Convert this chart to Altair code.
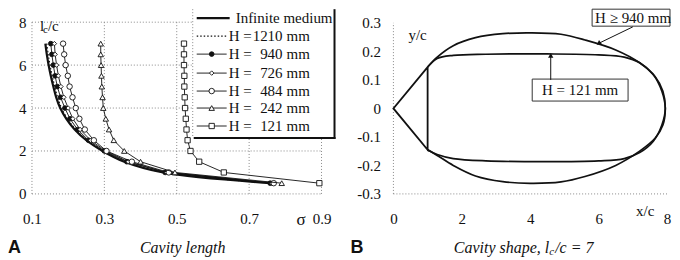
import altair as alt
import pandas as pd

# ---------------- Panel A : cavity length l_c/c versus sigma ----------------
LC = [7, 6.5, 6, 5.5, 5, 4.5, 4, 3.5, 3, 2.5, 2, 1.5, 1, 0.5]
SIG_INF = [0.137, 0.141, 0.146, 0.152, 0.159, 0.167, 0.178, 0.195, 0.218, 0.250, 0.295, 0.355, 0.462, 0.762]
SIG_1210 = [0.141, 0.145, 0.150, 0.156, 0.163, 0.171, 0.182, 0.198, 0.221, 0.253, 0.298, 0.358, 0.465, 0.762]
SIG_940 = [0.152, 0.155, 0.159, 0.164, 0.170, 0.179, 0.191, 0.205, 0.226, 0.256, 0.300, 0.362, 0.468, 0.758]
SIG_726 = [0.162, 0.164, 0.168, 0.173, 0.180, 0.188, 0.200, 0.213, 0.233, 0.262, 0.304, 0.366, 0.472, 0.762]
SIG_484 = [0.186, 0.189, 0.193, 0.199, 0.204, 0.212, 0.221, 0.231, 0.246, 0.271, 0.306, 0.376, 0.478, 0.768]
SIG_242 = [0.290, 0.290, 0.291, 0.292, 0.293, 0.295, 0.297, 0.304, 0.313, 0.326, 0.355, 0.400, 0.495, 0.790]
SIG_121 = [0.520, 0.520, 0.520, 0.521, 0.521, 0.522, 0.523, 0.525, 0.527, 0.530, 0.538, 0.562, 0.630, 0.894]

SERIES_SIG = [SIG_INF, SIG_1210, SIG_940, SIG_726, SIG_484, SIG_242, SIG_121]
LEGEND_NUMS = [None, "1210", "940", "726", "484", "242", "121"]
A_XTICKS = [0.1, 0.3, 0.5, 0.7, 0.9]
A_YTICKS = [0, 2, 4, 6, 8]

# ---------------- Panel B : cavity shape for l_c/c = 7 ----------------
INF_UP_X = [1.0, 1.28, 1.75, 2.4, 3.2, 4.0, 4.9, 5.6, 6.5, 7.2, 7.65, 7.88, 7.95]
INF_UP_Y = [0.145, 0.180, 0.220, 0.248, 0.262, 0.265, 0.260, 0.240, 0.205, 0.160, 0.112, 0.060, 0.0]
INF_LO_X = [1.0, 1.28, 1.75, 2.4, 3.2, 4.0, 4.9, 5.6, 6.5, 7.2, 7.65, 7.88]
INF_LO_Y = [-0.145, -0.165, -0.200, -0.237, -0.257, -0.263, -0.258, -0.239, -0.200, -0.150, -0.105, -0.058]
H121_UP_X = [1.0, 1.28, 1.75, 2.7, 4.5, 6.0, 6.75, 7.2, 7.6, 7.85, 7.95]
H121_UP_Y = [0.145, 0.175, 0.186, 0.190, 0.191, 0.188, 0.180, 0.160, 0.118, 0.060, 0.0]
H121_LO_X = [1.0, 1.28, 1.75, 2.7, 4.5, 6.0, 6.75, 7.2, 7.6, 7.85]
H121_LO_Y = [-0.145, -0.162, -0.176, -0.184, -0.187, -0.184, -0.176, -0.155, -0.115, -0.058]
WEDGE_X = [1.0, 0.0, 1.0, 1.0]
WEDGE_Y = [0.145, 0.0, -0.145, 0.145]
ARROW1_X = [7.0, 6.0]
ARROW1_Y = [0.286, 0.228]
ARROW2_X = [4.6, 4.6]
ARROW2_Y = [0.100, 0.186]
B_XTICKS = [0, 2, 4, 6, 8]
B_YTICKS = [-0.3, -0.2, -0.1, 0.0, 0.1, 0.2, 0.3]

SERIF = "Liberation Serif"
SANS = "Liberation Sans"
INK = "#111111"
GRID = "#8a8a8a"
A_W, A_H = 290, 185
B_W, B_H = 274, 185

DUMMY = pd.DataFrame({"d": [0]})


def T(text, x, y, size=15, font=SERIF, align="left", style="normal", weight="normal"):
    return alt.Chart(pd.DataFrame({"t": [text]})).mark_text(
        align=align, baseline="middle", font=font, fontSize=size,
        fontStyle=style, fontWeight=weight, color=INK
    ).encode(text="t:N", x=alt.value(x), y=alt.value(y))


# ---------- panel A scales / axes ----------
sxA = alt.Scale(domain=[0.1, 0.9], nice=False, zero=False)
syA = alt.Scale(domain=[0, 8.605], nice=False, zero=False)
axA_x = alt.Axis(values=A_XTICKS, format=".1f", grid=False, domain=False, ticks=False,
                 labelPadding=18, labelFont=SERIF, labelFontSize=15, labelColor=INK,
                 labelFlush=False, labelOverlap=False, title=None, minExtent=0)
axA_y = alt.Axis(values=A_YTICKS, format="d", grid=False, domain=False, ticks=False,
                 labelPadding=6, labelFont=SERIF, labelFontSize=15, labelColor=INK,
                 labelFlush=False, labelOverlap=False, title=None, minExtent=0)


def XA(f):
    return alt.X(f, type="quantitative", scale=sxA, axis=axA_x)


def YA(f):
    return alt.Y(f, type="quantitative", scale=syA, axis=axA_y)


layersA = []
gv = pd.DataFrame({"s": A_XTICKS, "lo": [0] * len(A_XTICKS), "hi": [8] * len(A_XTICKS)})
gh = pd.DataFrame({"l": A_YTICKS, "lo": [0.1] * len(A_YTICKS), "hi": [0.9] * len(A_YTICKS)})
layersA.append(alt.Chart(gv).mark_rule(color=GRID, strokeDash=[1, 2], strokeWidth=1).encode(
    x=XA("s"), y=YA("lo"), y2="hi:Q"))
layersA.append(alt.Chart(gh).mark_rule(color=GRID, strokeDash=[1, 2], strokeWidth=1).encode(
    y=YA("l"), x=XA("lo"), x2="hi:Q"))

STYLES = [
    dict(w=2.2, dash=None, shape=None, filled=False, size=0, interp="catmull-rom"),
    dict(w=1.1, dash=[1.5, 2], shape=None, filled=False, size=0, interp="catmull-rom"),
    dict(w=0.9, dash=None, shape="circle", filled=True, size=22, interp="linear"),
    dict(w=0.9, dash=None, shape="diamond", filled=False, size=20, interp="linear"),
    dict(w=0.9, dash=None, shape="circle", filled=False, size=30, interp="linear"),
    dict(w=0.9, dash=None, shape="triangle-up", filled=False, size=30, interp="linear"),
    dict(w=0.9, dash=None, shape="square", filled=False, size=28, interp="linear"),
]


def line_kw(st):
    kw = dict(color=INK, strokeWidth=st["w"], interpolate=st["interp"])
    if st["dash"]:
        kw["strokeDash"] = st["dash"]
    return kw


def point_kw(st):
    return dict(shape=st["shape"], filled=True, fill=(INK if st["filled"] else "white"),
                stroke=INK, strokeWidth=0.9, size=st["size"], opacity=1)


for sig, st in zip(SERIES_SIG, STYLES):
    df = pd.DataFrame({"sigma": sig, "lc": LC, "i": list(range(len(LC)))})
    layersA.append(alt.Chart(df).mark_line(**line_kw(st)).encode(
        x=XA("sigma"), y=YA("lc"), order=alt.Order("i:Q")))
    if st["shape"]:
        layersA.append(alt.Chart(df).mark_point(**point_kw(st)).encode(x=XA("sigma"), y=YA("lc")))

# legend box (pixel layout relative to plot origin)
LEG_Y = [9, 27, 45, 64, 82, 99, 117]
layersA.append(alt.Chart(DUMMY).mark_rect(fill="white", stroke=None).encode(
    x=alt.value(161), x2=alt.value(303), y=alt.value(0), y2=alt.value(129)))
layersA.append(alt.Chart(DUMMY).mark_rule(color=GRID, strokeDash=[1, 2]).encode(
    x=alt.value(161), y=alt.value(0), y2=alt.value(129)))
layersA.append(alt.Chart(DUMMY).mark_rule(color=INK, strokeWidth=2).encode(
    x=alt.value(303), y=alt.value(0), y2=alt.value(130)))
layersA.append(alt.Chart(DUMMY).mark_rule(color=INK, strokeWidth=2).encode(
    x=alt.value(162), x2=alt.value(304), y=alt.value(129)))
for k, st in enumerate(STYLES):
    ly = LEG_Y[k]
    rk = dict(color=INK, strokeWidth=st["w"])
    if st["dash"]:
        rk["strokeDash"] = st["dash"]
    layersA.append(alt.Chart(DUMMY).mark_rule(**rk).encode(
        x=alt.value(165), x2=alt.value(198 if k == 0 else 195), y=alt.value(ly)))
    if st["shape"]:
        layersA.append(alt.Chart(DUMMY).mark_point(**point_kw(st)).encode(
            x=alt.value(180), y=alt.value(ly)))
    if LEGEND_NUMS[k] is None:
        layersA.append(T("Infinite medium", 204, ly))
    else:
        layersA.append(T("H =", 197, ly))
        layersA.append(T(LEGEND_NUMS[k], 251, ly, align="right"))
        layersA.append(T("mm", 255, ly))

# axis annotations / titles for panel A
layersA.append(T("l", 8, 17))
layersA.append(T("c", 11, 21, size=11))
layersA.append(T("/c", 16, 17))
layersA.append(T("σ", 265, 211, size=17))
layersA.append(T("Cavity length", 151, 239, size=16, align="center", style="italic"))
layersA.append(T("A", -24, 239, size=18, font=SANS, weight="bold"))

panelA = alt.layer(*layersA).properties(width=A_W, height=A_H)

# ---------- panel B ----------
sxB = alt.Scale(domain=[0, 8], nice=False, zero=False)
syB = alt.Scale(domain=[-0.3, 0.348], nice=False, zero=False)
axB_x = alt.Axis(values=B_XTICKS, format="d", grid=False, domain=False, ticks=False,
                 labelPadding=18, labelFont=SERIF, labelFontSize=15, labelColor=INK,
                 labelFlush=False, labelOverlap=False, title=None, minExtent=0)
axB_y = alt.Axis(values=B_YTICKS, grid=False, domain=False, ticks=False,
                 labelExpr="(datum.value < -0.001 ? '-' : '') + format(abs(datum.value), '.1~f')",
                 labelPadding=13, labelFont=SERIF, labelFontSize=15, labelColor=INK,
                 labelFlush=False, labelOverlap=False, title=None, minExtent=0)


def XB(f):
    return alt.X(f, type="quantitative", scale=sxB, axis=axB_x)


def YB(f):
    return alt.Y(f, type="quantitative", scale=syB, axis=axB_y)


layersB = []
layersB.append(alt.Chart(pd.DataFrame({"x": [0], "lo": [-0.3], "hi": [0.3]})).mark_rule(
    color=GRID, strokeDash=[1, 2]).encode(x=XB("x"), y=YB("lo"), y2="hi:Q"))
layersB.append(alt.Chart(pd.DataFrame({"y": [-0.3], "lo": [0], "hi": [8]})).mark_rule(
    color=GRID, strokeDash=[1, 2]).encode(y=YB("y"), x=XB("lo"), x2="hi:Q"))


def contour(ux, uy, lx, ly):
    xs = list(ux) + list(lx)[::-1]
    ys = list(uy) + list(ly)[::-1]
    return pd.DataFrame({"x": xs, "y": ys, "i": list(range(len(xs)))})


for df in (contour(INF_UP_X, INF_UP_Y, INF_LO_X, INF_LO_Y),
           contour(H121_UP_X, H121_UP_Y, H121_LO_X, H121_LO_Y)):
    layersB.append(alt.Chart(df).mark_line(color=INK, strokeWidth=1.7, interpolate="catmull-rom").encode(
        x=XB("x"), y=YB("y"), order=alt.Order("i:Q")))

wdf = pd.DataFrame({"x": WEDGE_X, "y": WEDGE_Y, "i": list(range(len(WEDGE_X)))})
layersB.append(alt.Chart(wdf).mark_line(color=INK, strokeWidth=1.8).encode(
    x=XB("x"), y=YB("y"), order=alt.Order("i:Q")))

# annotation boxes (pixel layout relative to plot origin)
layersB.append(alt.Chart(DUMMY).mark_rect(fill="white", stroke="#333333", strokeWidth=1).encode(
    x=alt.value(199), x2=alt.value(277), y=alt.value(0), y2=alt.value(17)))
layersB.append(T("H ≥ 940 mm", 202, 9))
layersB.append(alt.Chart(DUMMY).mark_rect(fill="white", stroke="#333333", strokeWidth=1).encode(
    x=alt.value(139), x2=alt.value(235), y=alt.value(70), y2=alt.value(92)))
layersB.append(T("H = 121 mm", 187, 81, align="center"))

for ax, ay, ang in ((ARROW1_X, ARROW1_Y, 236), (ARROW2_X, ARROW2_Y, 0)):
    adf = pd.DataFrame({"x": ax, "y": ay, "i": [0, 1]})
    layersB.append(alt.Chart(adf).mark_line(color=INK, strokeWidth=1).encode(
        x=XB("x"), y=YB("y"), order=alt.Order("i:Q")))
    tip = adf.iloc[[1]]
    layersB.append(alt.Chart(tip).mark_point(shape="triangle-up", filled=True, color=INK,
                                             size=28, angle=ang, opacity=1).encode(
        x=XB("x"), y=YB("y")))

layersB.append(T("y/c", 15, 26))
layersB.append(T("x/c", 243, 202))
layersB.append(T("Cavity shape, l", 156, 239, size=16, align="right", style="italic"))
layersB.append(T("c", 156, 243, size=11, style="italic"))
layersB.append(T("/c = 7", 162, 239, size=16, style="italic"))
layersB.append(T("B", -43, 239, size=18, font=SANS, weight="bold"))

panelB = alt.layer(*layersB).properties(width=B_W, height=B_H)

chart = (alt.hconcat(panelA, panelB, spacing=14)
         .properties(padding=0)
         .configure_view(stroke=None)
         .configure_axis(labelFont=SERIF, labelFontSize=15, labelColor=INK))
chart.save("out.html", embed_options={"renderer": "svg", "actions": False})
